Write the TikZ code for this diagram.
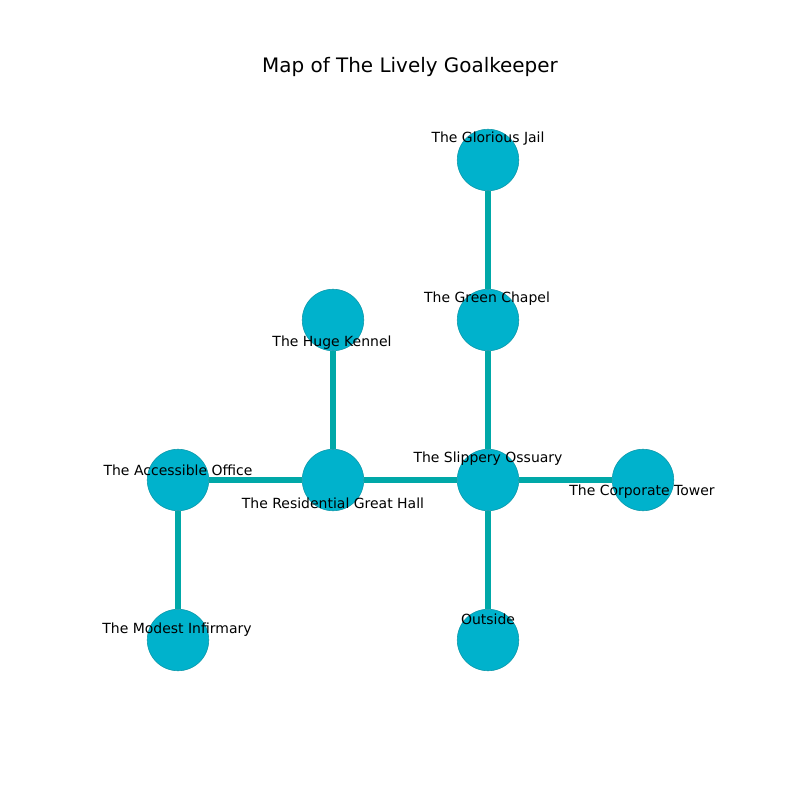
\documentclass[tikz,border=0pt]{standalone}
\usepackage{fontspec}
\setmainfont{DejaVu Sans}
\usetikzlibrary{positioning}

\definecolor{roomfill}{HTML}{00B2CC}
\definecolor{roomline}{HTML}{0A96A8}
\definecolor{pathline}{HTML}{00A8A8}

\tikzset{
  room/.style={circle, fill=roomfill, draw=roomline, line width=0.4pt, minimum size=0.615in, inner sep=0pt},
  hall/.style={draw=pathline, line width=3.7pt},
  tag/.style={font=\fontsize{10.1}{12}\selectfont, inner sep=0pt}
}

\begin{document}
\begin{tikzpicture}[x=0.01in, y=-0.01in]
\useasboundingbox (0,0) rectangle (800,800);

% Title
\node[font=\fontsize{14.4}{17}\selectfont] (title) at (410,67) {Map of The Lively Goalkeeper};

% Rooms
\node[room] (jail) at (488,160) {};
\node[room] (chapel) at (488,320) {};
\node[room] (kennel) at (333,320) {};
\node[room] (office) at (178,480) {};
\node[room] (hall) at (333,480) {};
\node[room] (ossuary) at (488,480) {};
\node[room] (tower) at (643,480) {};
\node[room] (infirmary) at (178,640) {};
\node[room] (outside) at (488,640) {};

% Passages
\draw[hall] (jail) -- (chapel);
\draw[hall] (chapel) -- (ossuary);
\draw[hall] (kennel) -- (hall);
\draw[hall] (office) -- (hall);
\draw[hall] (hall) -- (ossuary);
\draw[hall] (ossuary) -- (tower);
\draw[hall] (ossuary) -- (outside);
\draw[hall] (office) -- (infirmary);

% Labels
\node[tag] (jailtag) at (488,139) {The Glorious Jail};
\node[tag] (chapeltag) at (487,299) {The Green Chapel};
\node[tag] (kenneltag) at (332,343) {The Huge Kennel};
\node[tag] (officetag) at (178,470) {The Accessible Office};
\node[tag] (halltag) at (333,503) {The Residential Great Hall};
\node[tag] (ossuarytag) at (488,459) {The Slippery Ossuary};
\node[tag] (towertag) at (642,492) {The Corporate Tower};
\node[tag] (infirmarytag) at (177,630) {The Modest Infirmary};
\node[tag] (outsidetag) at (488,619) {Outside};
\end{tikzpicture}
\end{document}
